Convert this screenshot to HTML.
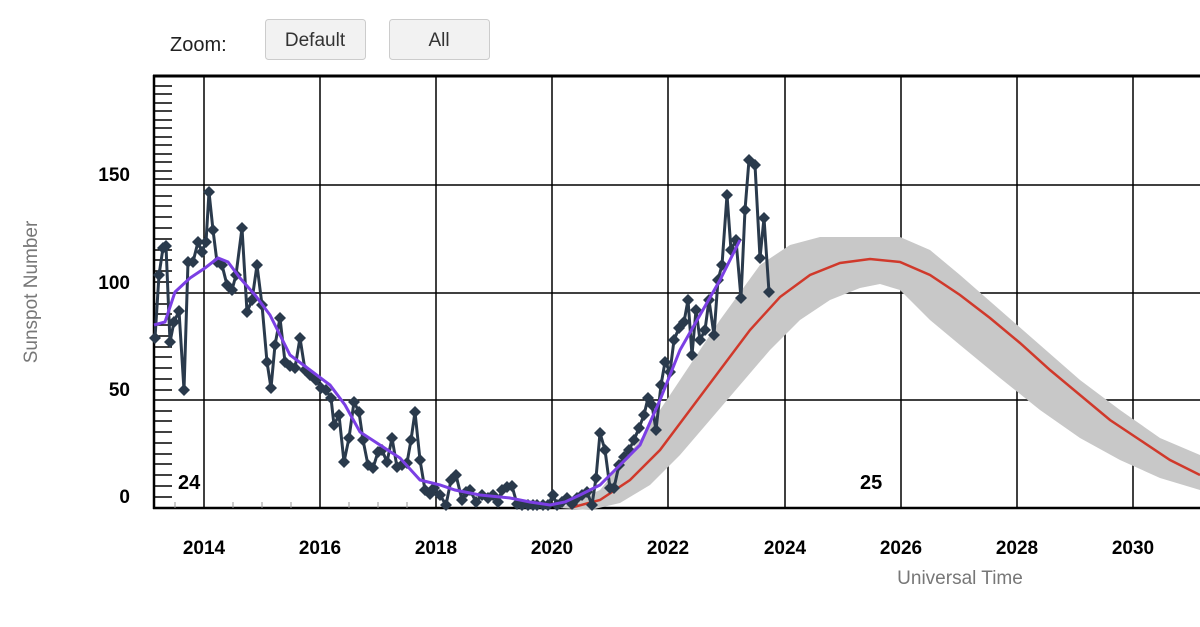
<!DOCTYPE html>
<html><head><meta charset="utf-8"><style>
body{margin:0;background:#fff;width:1200px;height:622px;overflow:hidden;font-family:"Liberation Sans",Arial,sans-serif}
</style></head><body>
<svg width="1200" height="622" xmlns="http://www.w3.org/2000/svg" font-family="Liberation Sans, Arial, sans-serif">
<defs>
<marker id="dm" viewBox="-6 -6 12 12" markerWidth="12" markerHeight="12" refX="0" refY="0" markerUnits="userSpaceOnUse">
<path d="M0,-6 L6,0 L0,6 L-6,0 Z" fill="#2a3a4c"/>
</marker>
</defs>
<text x="170" y="51" font-size="20" fill="#222">Zoom:</text>
<rect x="265.5" y="19.5" width="100" height="40" rx="3" fill="#f2f2f2" stroke="#ccc"/>
<text x="315" y="46" font-size="19" fill="#333" text-anchor="middle">Default</text>
<rect x="389.5" y="19.5" width="100" height="40" rx="3" fill="#f2f2f2" stroke="#ccc"/>
<text x="439" y="46" font-size="19" fill="#333" text-anchor="middle">All</text>
<g stroke="#000" stroke-width="1.5">
<line x1="154" y1="185" x2="1200" y2="185"/><line x1="154" y1="293" x2="1200" y2="293"/><line x1="154" y1="400" x2="1200" y2="400"/>
<line x1="204" y1="75" x2="204" y2="508"/><line x1="320" y1="75" x2="320" y2="508"/><line x1="436" y1="75" x2="436" y2="508"/><line x1="552" y1="75" x2="552" y2="508"/><line x1="668" y1="75" x2="668" y2="508"/><line x1="785" y1="75" x2="785" y2="508"/><line x1="901" y1="75" x2="901" y2="508"/><line x1="1017" y1="75" x2="1017" y2="508"/><line x1="1133" y1="75" x2="1133" y2="508"/>
</g>
<line x1="153" y1="76" x2="1200" y2="76" stroke="#000" stroke-width="3"/>
<line x1="154" y1="75" x2="154" y2="509" stroke="#000" stroke-width="2.5"/>
<line x1="153" y1="508" x2="1200" y2="508" stroke="#000" stroke-width="2.5"/>
<g stroke="#000" stroke-width="1.5">
<path d="M155 86h17M155 94h17M155 103h17M155 111h17M155 120h17M155 128h17M155 137h17M155 145h17M155 154h17M155 162h17M155 171h17M155 179h17M155 196h17M155 206h17M155 217h17M155 228h17M155 239h17M155 250h17M155 260h17M155 271h17M155 282h17M155 304h17M155 314h17M155 325h17M155 336h17M155 347h17M155 357h17M155 368h17M155 379h17M155 390h17M155 411h17M155 421h17M155 432h17M155 443h17M155 454h17M155 464h17M155 475h17M155 486h17M155 497h17"/>
</g>
<g stroke="#999" stroke-width="1">
<path d="M175 508v-6M233 508v-6M262 508v-6M291 508v-6M349 508v-6M378 508v-6M407 508v-6"/>
</g>
<polygon fill="#c8c8c8" points="560,508 600,490 640,440 680,380 720,320 760,265 790,245 820,237 900,237 930,250 960,275 1000,310 1040,345 1080,380 1120,410 1160,438 1200,455 1200,490 1160,478 1120,460 1080,438 1040,410 1000,378 960,345 930,320 900,290 880,284 860,288 830,300 800,320 770,350 740,385 710,420 680,455 650,485 620,503 590,510"/>
<polyline fill="none" stroke="#d0392b" stroke-width="2.5" points="570,508 600,500 630,480 660,450 690,410 720,370 750,330 780,297 810,275 840,263 870,259 900,262 930,275 960,295 990,318 1020,343 1050,370 1080,395 1110,420 1140,440 1170,460 1200,475"/>
<polyline fill="none" stroke="#2a3a4c" stroke-width="3" stroke-linejoin="round" marker-start="url(#dm)" marker-mid="url(#dm)" marker-end="url(#dm)" points="155,338 159,275 163,248 166,246 170,342 174,322 179,311 184,390 188,262 193,262 198,242 202,252 206,242 209,192 213,230 217,262 222,265 227,285 232,290 236,275 242,228 247,312 252,300 257,265 262,305 267,362 271,388 275,345 280,318 285,362 290,366 295,368 300,338 305,370 310,375 316,380 321,388 326,390 331,398 334,425 339,415 344,462 349,438 354,402 359,412 363,440 368,465 373,468 378,452 382,450 387,462 392,438 397,467 402,465 407,463 411,440 415,412 420,460 425,490 430,494 434,488 440,495 446,505 451,480 456,475 462,500 466,492 470,490 476,502 482,495 488,498 493,495 498,502 502,490 507,487 512,486 517,504 522,505 528,505 533,505 537,505 543,505 548,505 553,495 557,505 562,502 567,498 572,504 577,498 582,495 587,492 592,505 596,478 600,433 605,450 610,488 614,488 619,465 624,457 629,450 634,440 639,428 644,415 648,398 652,405 656,430 661,385 665,362 670,372 674,340 679,328 684,322 688,300 692,355 696,310 700,340 705,330 709,300 714,335 718,280 722,265 727,195 731,250 736,240 741,298 745,210 749,160 755,165 760,258 764,218 769,292"/>
<polyline fill="none" stroke="#7b3fe4" stroke-width="3" points="154,325 165,322 175,292 190,278 205,268 218,258 228,262 240,278 255,295 270,315 290,355 310,370 330,385 345,405 360,432 380,445 400,458 420,480 440,485 455,490 480,495 510,498 530,502 550,505 565,502 580,495 600,485 620,465 640,445 660,400 680,350 700,315 720,280 740,240"/>
<text x="178" y="489" font-size="20" font-weight="bold">24</text>
<text x="860" y="489" font-size="20" font-weight="bold">25</text>
<g font-size="19" font-weight="bold" text-anchor="end">
<text x="130" y="181">150</text><text x="130" y="289">100</text><text x="130" y="396">50</text><text x="130" y="503">0</text>
</g>
<g font-size="19" font-weight="bold" text-anchor="middle">
<text x="204" y="554">2014</text><text x="320" y="554">2016</text><text x="436" y="554">2018</text><text x="552" y="554">2020</text><text x="668" y="554">2022</text><text x="785" y="554">2024</text><text x="901" y="554">2026</text><text x="1017" y="554">2028</text><text x="1133" y="554">2030</text>
</g>
<text x="960" y="584" font-size="19" fill="#777" text-anchor="middle">Universal Time</text>
<text transform="translate(37,292) rotate(-90)" font-size="19" fill="#777" text-anchor="middle">Sunspot Number</text>
</svg>
</body></html>
